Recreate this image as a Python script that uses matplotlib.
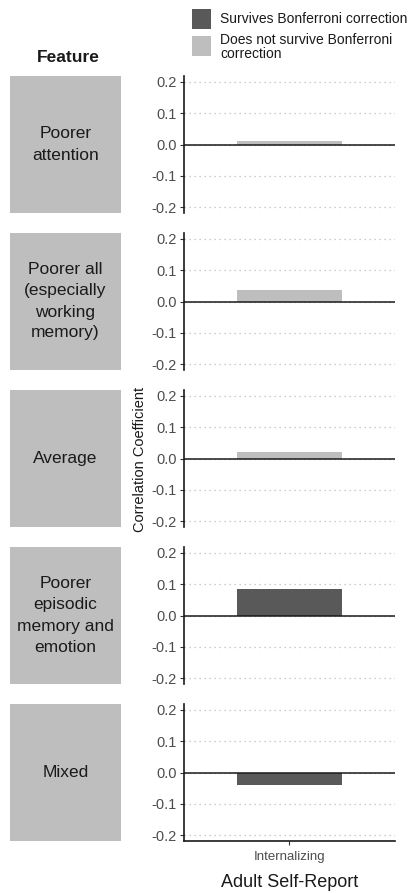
import matplotlib
matplotlib.use('Agg')
import matplotlib.pyplot as plt
from matplotlib.patches import Rectangle

plt.rcParams['font.family'] = ['Liberation Sans', 'DejaVu Sans']

# data
features = ['Poorer\nattention',
            'Poorer all\n(especially\nworking\nmemory)',
            'Average',
            'Poorer\nepisodic\nmemory and\nemotion',
            'Mixed']
correlations = [0.010, 0.038, 0.022, 0.083, -0.041]
survives = [False, False, False, True, True]
measure = ['Internalizing']
yticks = [-0.2, -0.1, 0.0, 0.1, 0.2]

dark = '#595959'
light = '#bebebe'
strip = '#bebebe'

W, H = 414, 893
fig = plt.figure(figsize=(W / 100, H / 100), dpi=100)


def box(left, top, width, height):
    # pixel box -> figure fraction rect
    return [left / W, 1 - (top + height) / H, width / W, height / H]


panel_top = 76
panel_h = 137
step = 157

for i, (feat, r, ok) in enumerate(zip(features, correlations, survives)):
    top = panel_top + i * step
    ax = fig.add_axes(box(184, top, 211, panel_h))
    ax.bar(measure, [r], width=0.6, color=dark if ok else light, zorder=2)
    ax.axhline(0, color='#1a1a1a', lw=1.1, zorder=3)
    ax.set_xlim(-0.6, 0.6)
    ax.set_ylim(-0.218, 0.218)
    ax.set_yticks(yticks)
    ax.set_yticklabels(['%.1f' % t for t in yticks])
    ax.yaxis.grid(True, linestyle=(0, (1, 3)), color='#bdbdbd', lw=0.9)
    ax.set_axisbelow(True)
    for s in ['top', 'right']:
        ax.spines[s].set_visible(False)
    ax.spines['left'].set_color('#1a1a1a')
    ax.spines['left'].set_linewidth(1.2)
    ax.tick_params(axis='y', length=3, color='#333333', labelcolor='#4d4d4d',
                   labelsize=10.5, pad=2)
    if i < len(features) - 1:
        ax.spines['bottom'].set_visible(False)
        ax.tick_params(axis='x', bottom=False, labelbottom=False)
    else:
        ax.spines['bottom'].set_color('#1a1a1a')
        ax.spines['bottom'].set_linewidth(1.2)
        ax.tick_params(axis='x', length=3, color='#333333', labelcolor='#4d4d4d',
                       labelsize=9.5, pad=4)
        ax.set_xlabel('Adult Self-Report', fontsize=13, color='#1a1a1a', labelpad=8)

    # strip with the feature name
    fig.patches.append(Rectangle((10 / W, 1 - (top + panel_h) / H), 111 / W, panel_h / H,
                                 transform=fig.transFigure, facecolor=strip,
                                 edgecolor='none'))
    fig.text(65.5 / W, 1 - (top + panel_h / 2) / H, feat, ha='center', va='center',
             fontsize=12.5, color='#1a1a1a', linespacing=1.5)

fig.text(68 / W, 1 - 58 / H, 'Feature', ha='center', va='center',
         fontsize=12.5, fontweight='bold', color='#1a1a1a')

fig.text(140 / W, 1 - 459 / H, 'Correlation Coefficient', rotation=90,
         ha='center', va='center', fontsize=10.5, color='#1a1a1a')

# legend
fig.patches.append(Rectangle((192 / W, 1 - 29 / H), 19 / W, 20 / H,
                             transform=fig.transFigure, facecolor=dark, edgecolor='none'))
fig.patches.append(Rectangle((192 / W, 1 - 56 / H), 19 / W, 20 / H,
                             transform=fig.transFigure, facecolor=light, edgecolor='none'))
fig.text(220 / W, 1 - 19 / H, 'Survives Bonferroni correction', ha='left', va='center',
         fontsize=10, color='#1a1a1a')
fig.text(220 / W, 1 - 47 / H, 'Does not survive Bonferroni\ncorrection', ha='left',
         va='center', fontsize=10, color='#1a1a1a', linespacing=0.95)

fig.savefig('out.png', dpi=100)
